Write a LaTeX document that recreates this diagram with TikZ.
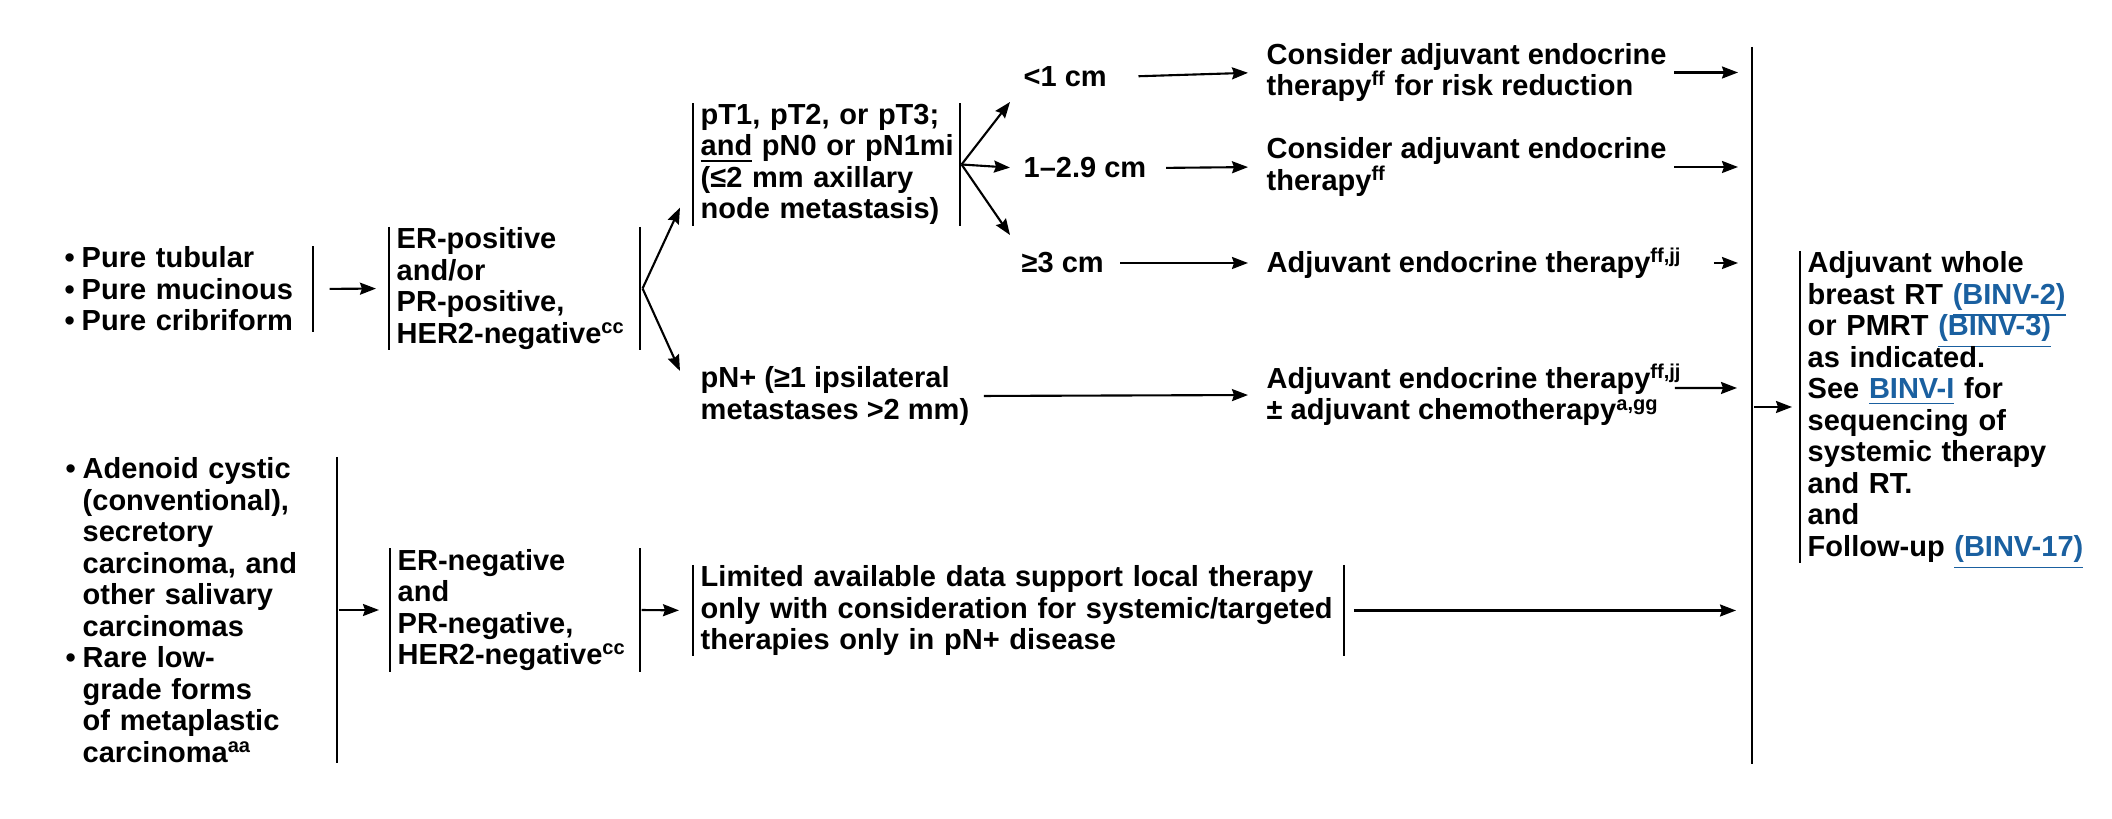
\documentclass[tikz,border=0pt]{standalone}
\usepackage{fontspec}
\setmainfont{Liberation Sans}
\usepackage{xcolor}
\usetikzlibrary{arrows.meta}

\definecolor{linkblue}{RGB}{26,96,160}
\newcommand{\lnk}[1]{\textcolor{linkblue}{\smash{\underline{#1}}}}
\newcommand{\sups}[1]{\textsuperscript{\fontsize{5.7}{6}\selectfont #1}}
\newcommand{\bul}{\makebox[0.17cm][l]{\textbullet}}
\newcommand{\ind}{\hspace*{0.17cm}}

\begin{document}
\begin{tikzpicture}[x=0.01cm,y=-0.01cm,
    every node/.style={font=\bfseries\fontsize{8.25}{8.96}\selectfont,
                       execute at begin node={\lineskiplimit=-5pt},
                       inner xsep=0.07cm,inner ysep=0pt,anchor=west,align=left},
    arr/.style={-{Stealth[length=0.16cm,width=0.12cm,inset=0.02cm]},line width=0.6pt},
    bar/.style={line width=0.6pt}]
    \useasboundingbox (0,0) rectangle (2112,819);

    % first column
    \node[text width=2.40cm] (tub) at (57,289) {\bul Pure tubular\\ \bul Pure mucinous\\ \bul Pure cribriform};
    \node[text width=2.63cm] (grp2) at (58,610) {\bul Adenoid cystic\\ \ind(conventional),\\ \ind secretory\\
        \ind carcinoma, and\\ \ind other salivary\\ \ind carcinomas\\ \bul Rare low-\\ \ind grade forms\\
        \ind of metaplastic\\ \ind carcinoma\sups{aa}};

    % receptor status
    \node[text width=2.35cm] (erp) at (389,288.5) {ER-positive\\ and/or\\ PR-positive,\\ HER2-negative\sups{cc}};
    \node[text width=2.34cm] (ern) at (390,610) {ER-negative\\ and\\ PR-negative,\\ HER2-negative\sups{cc}};

    % stage
    \node[text width=2.51cm] (pt) at (693,164.5) {pT1, pT2, or pT3;\\ \mbox{\underline{and} pN0 or pN1mi}\\ (≤2 mm axillary\\ node metastasis)};
    \node (pnp) at (693,396) {pN+ (≥1 ipsilateral\\ metastases >2 mm)};
    \node[text width=6.35cm] (lim) at (693,610.5) {Limited available data support local therapy\\
        \mbox{only with consideration for systemic/targeted}\\ therapies only in pN+ disease};

    % tumour size
    \node (lt1) at (1016,77) {<1 cm};
    \node (mid) at (1016,168) {1–2.9 cm};
    \node (ge3) at (1014,263) {≥3 cm};

    % adjuvant therapy
    \node (r1) at (1259,72.5) {Consider adjuvant endocrine\\ therapy\sups{ff} for risk reduction};
    \node (r2) at (1259,167) {Consider adjuvant endocrine\\ therapy\sups{ff}};
    \node (r3) at (1259,263) {Adjuvant endocrine therapy\sups{ff,jj}};
    \node (r4) at (1259,395) {Adjuvant endocrine therapy\sups{ff,jj}\\ ± adjuvant chemotherapy\sups{a,gg}};

    \node[text width=2.9cm] (fin) at (1800,407) {Adjuvant whole\\ breast RT \lnk{(BINV-2)}\\ or PMRT \lnk{(BINV-3)}\\
        as indicated.\\ See \lnk{BINV-I} for\\ sequencing of\\ systemic therapy\\ and RT.\\ and\\ Follow-up \lnk{(BINV-17)}};

    \coordinate (vt) at (1752,47);
    \coordinate (vb) at (1752,764);
    \coordinate (f1) at ([xshift=0.03cm]erp.east);
    \coordinate (f2) at ([xshift=0.02cm]pt.east);

    % bars
    \foreach \n in {erp,pt,ern,lim}
        \draw[bar] (\n.north west) -- (\n.south west) (\n.north east) -- (\n.south east);
    \draw[bar] (tub.north east) -- (tub.south east);
    \draw[bar] (grp2.north east) -- (grp2.south east);
    \draw[bar] (fin.north west) -- (fin.south west);
    \draw[bar] (vt) -- (vb);

    % connectors
    \draw[arr,shorten <=0.17cm,shorten >=0.13cm] (tub.east) -- (erp.west);
    \draw[arr,shorten <=0.02cm,shorten >=0.11cm] (grp2.east) -- (ern.west);
    \draw[arr,shorten <=0.02cm,shorten >=0.14cm] (ern.east) -- (lim.west);
    \draw[arr,shorten <=0.10cm,shorten >=0.16cm] (lim.east) -- (lim.east -| vb);

    \draw[arr] (f1) -- ([shift={(-13,-18)}]pt.south west);
    \draw[arr] (f1) -- ([shift={(-13,5)}]pnp.north west);
    \draw[arr] (f2) -- ([shift={(-6,25)}]lt1.west);
    \draw[arr,shorten >=0.06cm] (f2) -- (mid.west);
    \draw[arr] (f2) -- ([shift={(-4,-28)}]ge3.west);

    \draw[arr,shorten <=0.24cm,shorten >=0.11cm] (lt1.east) -- (r1.west);
    \draw[arr,shorten <=0.12cm,shorten >=0.11cm] (mid.east) -- (r2.west);
    \draw[arr,shorten <=0.09cm,shorten >=0.11cm] (ge3.east) -- (r3.west);
    \draw[arr,shorten <=0.07cm,shorten >=0.11cm] (pnp.east) -- (r4.west);

    \draw[arr,shorten >=0.14cm] (r1.east) -- (r1.east -| vt);
    \draw[arr,shorten >=0.14cm] (r2.east) -- (r2.east -| vt);
    \draw[arr,shorten <=0.24cm,shorten >=0.14cm] (r3.east) -- (r3.east -| vt);
    \draw[arr,shorten >=0.15cm] ([shift={(-15,-7)}]r4.east) -- ([yshift=0.07cm]r4.east -| vt);
    \draw[arr,shorten <=0.02cm,shorten >=0.08cm] (fin.west -| vt) -- (fin.west);
\end{tikzpicture}
\end{document}
